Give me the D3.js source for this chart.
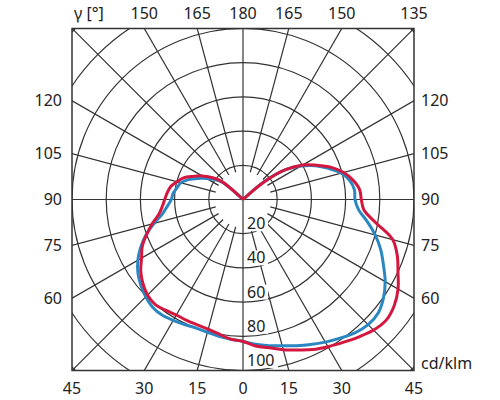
<!DOCTYPE html>
<html>
<head>
<meta charset="utf-8">
<script src="https://cdn.jsdelivr.net/npm/d3@7"></script>
<style>
  body { margin: 0; background: #fff; }
  svg text { font-family: "Noto Sans", sans-serif; font-size: 16px; fill: #222; }
</style>
</head>
<body>
<div id="chart"></div>
<script>
// gamma angles (deg) and intensities in cd/klm
var gamma = [0, 5, 10, 15, 20, 25, 30, 35, 40, 45, 50, 55, 60, 65, 70, 75, 80, 85, 90,
  95, 100, 105, 110, 115, 120, 125, 130, 135, 140, 145, 150, 155, 160, 165, 170, 175, 180];

// blue: C0 / C180 plane
var blue_left = [83, 82, 81.3, 80.4, 80, 80.7, 81.6, 82.5, 82.2, 80.4, 78, 75, 71, 66, 60.3, 53.8, 47.7, 44.4, 41.9,
  41, 39.2, 37.7, 34, 29.2, 24.7, 20.5, 15.2, 0, 0, 0, 0, 0, 0, 0, 0, 0, 0];
var blue_right = [83, 85, 86.8, 88.6, 91, 93.6, 96.3, 99, 101.8, 103.5, 103.2, 100.3, 96, 90.6, 85.7, 80, 73.7, 67.8, 65.5,
  65.4, 63.4, 59.6, 53.2, 46.8, 39.2, 30.4, 16.4, 0, 0, 0, 0, 0, 0, 0, 0, 0, 0];

// red: C90 / C270 plane
var red_left = [83, 82, 80, 78.5, 78, 78, 78, 79, 80, 79, 76.4, 73, 68.5, 65, 60, 55, 50, 47.4, 45.8,
  44.5, 43, 40, 37, 32, 27.6, 22.5, 16.7, 0, 0, 0, 0, 0, 0, 0, 0, 0, 0];
var red_right = [83, 86, 88, 91, 93.6, 96.8, 99.4, 102, 105, 108, 109.5, 108, 104.7, 100, 96, 90.6, 79, 71, 69.2,
  68.4, 65.3, 61, 55, 47.4, 40.4, 30.4, 16, 0, 0, 0, 0, 0, 0, 0, 0, 0, 0];

var ring_values = [20, 40, 60, 80, 100, 120, 140];
var value_labels = ['20', '40', '60', '80', '100'];
var spoke_angles = [15, 30, 45, 60, 75, 105, 120, 135, 150, 165];
var top_angles = [135, 150, 165, 180, 165, 150, 135];
var top_labels = ['γ [°]', '150', '165', '180', '165', '150', '135'];
var side_angles = [120, 105, 90, 75, 60];
var side_labels = ['120', '105', '90', '75', '60'];
var bottom_angles = [45, 30, 15, 0, 15, 30, 45];
var bottom_labels = ['45', '30', '15', '0', '15', '30', '45'];
var unit_label = 'cd/klm';

var width = 500, height = 400;
var cx = 243, cy = 199.5, half = 171;
var grid_color = '#333',
  blue_color = '#2b87c2',
  red_color = '#d3173f';

var svg = d3.select('#chart').append('svg')
  .attr('width', width)
  .attr('height', height);

var r = d3.scaleLinear().domain([0, 100]).range([0, half]);
var rad = function(d) { return d * Math.PI / 180; };

svg.append('clipPath').attr('id', 'frame')
  .append('rect')
  .attr('x', cx - half).attr('y', cy - half)
  .attr('width', 2 * half).attr('height', 2 * half);

var plot = svg.append('g')
  .attr('transform', 'translate(' + cx + ',' + cy + ')');
var grid = plot.append('g')
  .attr('clip-path', 'url(#frame)')
  .attr('transform', 'translate(' + (-cx) + ',' + (-cy) + ')')
  .append('g')
  .attr('transform', 'translate(' + cx + ',' + cy + ')')
  .attr('fill', 'none')
  .attr('stroke', grid_color)
  .attr('stroke-width', 1.2);

// rings
grid.selectAll('circle.ring').data(ring_values).enter().append('circle')
  .attr('class', 'ring')
  .attr('r', function(d) { return r(d); });

// spokes, both sides, starting just inside the first ring
[-1, 1].forEach(function(s) {
  grid.selectAll('line.spoke' + s).data(spoke_angles).enter().append('line')
    .attr('x1', function(d) { return s * r(16.5) * Math.sin(rad(d)); })
    .attr('y1', function(d) { return r(16.5) * Math.cos(rad(d)); })
    .attr('x2', function(d) { return s * r(160) * Math.sin(rad(d)); })
    .attr('y2', function(d) { return r(160) * Math.cos(rad(d)); });
});
grid.append('line').attr('x1', 0).attr('x2', 0).attr('y1', -half).attr('y2', half);
grid.append('line').attr('x1', -half).attr('x2', half).attr('y1', 0).attr('y2', 0);

// value labels on the 0 deg axis, with a white box hiding the grid
var vl = plot.selectAll('g.vlabel').data(value_labels).enter().append('g')
  .attr('class', 'vlabel')
  .attr('transform', function(d) { return 'translate(4,' + (r(+d) - 4.5) + ')'; });
vl.append('rect')
  .attr('x', -2).attr('y', -13)
  .attr('width', function(d) { return d.length * 10 + 3; })
  .attr('height', 15)
  .attr('fill', '#fff');
vl.append('text').text(function(d) { return d; });

// curves
var radial = d3.lineRadial()
  .angle(function(d) { return d[0]; })
  .radius(function(d) { return r(d[1]); })
  .curve(d3.curveCatmullRom.alpha(0.5));

function loop(left, right) {
  var pts = [];
  for (var i = gamma.length - 1; i >= 0; i--) pts.push([Math.PI - rad(gamma[i]), right[i]]);
  for (var j = 1; j < gamma.length; j++) pts.push([Math.PI + rad(gamma[j]), left[j]]);
  return pts.filter(function(p, k) {
    return !(p[1] === 0 && k > 0 && pts[k - 1][1] === 0 && (k + 1 >= pts.length || pts[k + 1][1] === 0));
  });
}

plot.append('path')
  .attr('d', radial(loop(blue_left, blue_right)))
  .attr('fill', 'none')
  .attr('stroke', blue_color)
  .attr('stroke-width', 3)
  .attr('stroke-linejoin', 'round');
plot.append('path')
  .attr('d', radial(loop(red_left, red_right)))
  .attr('fill', 'none')
  .attr('stroke', red_color)
  .attr('stroke-width', 3)
  .attr('stroke-linejoin', 'round');

// frame
svg.append('rect')
  .attr('x', cx - half).attr('y', cy - half)
  .attr('width', 2 * half).attr('height', 2 * half)
  .attr('fill', 'none')
  .attr('stroke', grid_color)
  .attr('stroke-width', 1.5);

// angle labels
svg.selectAll('text.top').data(top_labels).enter().append('text')
  .attr('class', 'top')
  .attr('x', function(d, i) {
    if (i === 0) return cx - half + 2;
    var s = i < 3 ? -1 : 1;
    return cx + s * half * Math.tan(rad(180 - top_angles[i]));
  })
  .attr('y', cy - half - 10)
  .attr('text-anchor', function(d, i) { return i === 0 ? 'start' : 'middle'; })
  .text(function(d) { return d; });

svg.selectAll('text.bottom').data(bottom_labels).enter().append('text')
  .attr('class', 'bottom')
  .attr('x', function(d, i) {
    var s = i < 3 ? -1 : 1;
    return cx + s * half * Math.tan(rad(bottom_angles[i]));
  })
  .attr('y', cy + half + 23)
  .attr('text-anchor', 'middle')
  .text(function(d) { return d; });

[-1, 1].forEach(function(s) {
  svg.selectAll('text.side' + s).data(side_labels).enter().append('text')
    .attr('x', cx + s * (half + (s < 0 ? 10 : 7)))
    .attr('y', function(d, i) {
      var g = rad(side_angles[i]);
      return cy + half * Math.cos(g) / Math.sin(g);
    })
    .attr('dy', '0.35em')
    .attr('text-anchor', s < 0 ? 'end' : 'start')
    .text(function(d) { return d; });
});

svg.append('text')
  .attr('x', cx + half + 7)
  .attr('y', cy + half - 7)
  .attr('dy', '0.35em')
  .text(unit_label);
</script>
</body>
</html>
